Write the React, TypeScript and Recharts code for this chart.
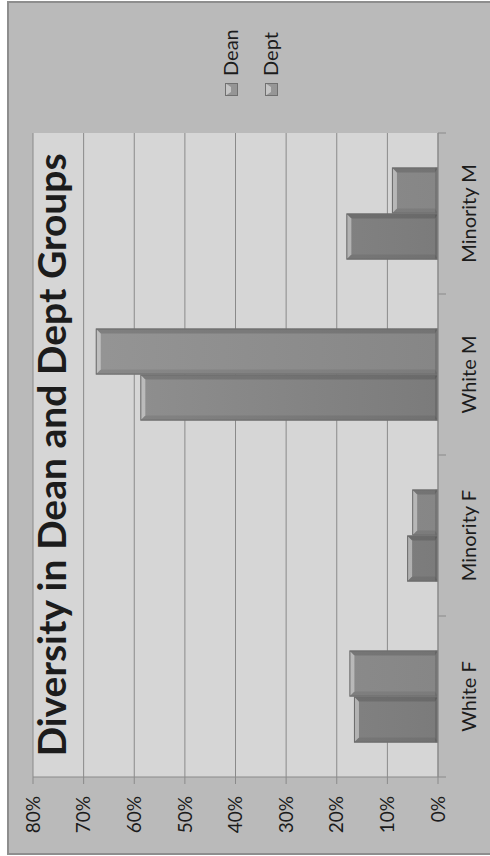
import { BarChart, Bar, XAxis, YAxis, CartesianGrid, Legend } from "recharts";

// category groups and shares (percent) for each series
const categories = ["White F", "Minority F", "White M", "Minority M"];
const deanShare = [16.6, 6.1, 58.8, 18.1];
const deptShare = [17.5, 5.1, 67.6, 9.1];
const percentTicks = [0, 10, 20, 30, 40, 50, 60, 70, 80];

const data = categories.map((name, i) => ({
  name,
  Dean: deanShare[i],
  Dept: deptShare[i],
}));

const W = 856;
const H = 490;
const FONT = "Lato, 'Open Sans', sans-serif";
const INK = "#1c1c1c";
const AXIS = "#8a8a8a";
const BAND = 644 / categories.length;

// bar with a bevelled top and darker sides
function BevelBar(props: any) {
  const { x, y, width, height, fill } = props;
  if (!height || height <= 0) return null;
  const b = Math.min(5, height / 2, width / 2);
  const x2 = x + width;
  const y2 = y + height;
  return (
    <g>
      <rect x={x} y={y} width={width} height={height} fill={fill} />
      <polygon
        points={`${x},${y} ${x2},${y} ${x2 - b},${y + b} ${x + b},${y + b}`}
        fill="#ffffff"
        fillOpacity={0.4}
      />
      <polygon
        points={`${x},${y} ${x + b},${y + b} ${x + b},${y2 - 3} ${x},${y2}`}
        fill="#000000"
        fillOpacity={0.08}
      />
      <polygon
        points={`${x2},${y} ${x2 - b},${y + b} ${x2 - b},${y2 - 3} ${x2},${y2}`}
        fill="#000000"
        fillOpacity={0.14}
      />
      <rect x={x} y={y2 - 3} width={width} height={3} fill="#000000" fillOpacity={0.12} />
      <rect
        x={x + 0.5}
        y={y + 0.5}
        width={width - 1}
        height={height - 1}
        fill="none"
        stroke="#6c6c6c"
        strokeWidth={1}
      />
    </g>
  );
}

// category label centred in its band, ticks on the band edges
function CategoryTick(props: any) {
  const { x, y, payload, index } = props;
  const left = x - BAND / 2;
  return (
    <g>
      <line x1={left} y1={y} x2={left} y2={y + 8} stroke={AXIS} />
      {index === categories.length - 1 && (
        <line x1={x + BAND / 2} y1={y} x2={x + BAND / 2} y2={y + 8} stroke={AXIS} />
      )}
      <text
        x={x}
        y={y + 38}
        textAnchor="middle"
        fontFamily={FONT}
        fontSize={20}
        fill={INK}
      >
        {payload.value}
      </text>
    </g>
  );
}

function LegendBox(props: any) {
  const items = props.payload || [];
  return (
    <svg width={96} height={80} style={{ overflow: "visible" }}>
      {items.map((item: any, i: number) => {
        const cy = 12 + i * 40;
        return (
          <g key={item.value}>
            <rect x={2} y={cy - 12} width={13} height={13} fill={item.color} />
            <polygon
              points={`2,${cy - 12} 15,${cy - 12} 11,${cy - 6} 6,${cy - 6}`}
              fill="#ffffff"
              fillOpacity={0.45}
            />
            <rect x={2.5} y={cy - 11.5} width={12} height={12} fill="none" stroke="#707070" />
            <text x={22} y={cy + 1} fontFamily={FONT} fontSize={20} fill={INK}>
              {item.value}
            </text>
          </g>
        );
      })}
    </svg>
  );
}

export default function App() {
  return (
    <div
      style={{
        position: "fixed",
        left: 0,
        top: 0,
        width: 490,
        height: 856,
        overflow: "hidden",
        background: "#ffffff",
      }}
    >
      <div
        style={{
          position: "absolute",
          left: 0,
          top: 0,
          width: W,
          height: H,
          transformOrigin: "0 0",
          transform: `translateY(${W}px) rotate(-90deg)`,
        }}
      >
        <div
          style={{
            position: "absolute",
            left: 1,
            top: 7,
            width: 854,
            height: 510,
            boxSizing: "border-box",
            border: "2px solid #8e8e8e",
            background: "#bababa",
          }}
        />
        <div style={{ position: "absolute", left: 0, top: 0 }}>
          <BarChart
            width={W}
            height={H}
            data={data}
            margin={{ top: 33, right: 133, bottom: 22, left: 0 }}
            barCategoryGap="21.4%"
            barGap={0}
          >
            <defs>
              <linearGradient id="deanFill" gradientUnits="userSpaceOnUse" x1="0" y1="33" x2="0" y2="438">
                <stop offset="0%" stopColor="#959595" />
                <stop offset="100%" stopColor="#7b7b7b" />
              </linearGradient>
              <linearGradient id="deptFill" gradientUnits="userSpaceOnUse" x1="0" y1="33" x2="0" y2="438">
                <stop offset="0%" stopColor="#979797" />
                <stop offset="100%" stopColor="#868686" />
              </linearGradient>
            </defs>
            <CartesianGrid vertical={false} fill="#d6d6d6" stroke={AXIS} />
            <XAxis
              dataKey="name"
              axisLine={{ stroke: AXIS }}
              tickLine={false}
              tickSize={0}
              tickMargin={0}
              height={30}
              interval={0}
              tick={<CategoryTick />}
            />
            <YAxis
              width={79}
              domain={[0, 80]}
              ticks={percentTicks}
              interval={0}
              axisLine={{ stroke: AXIS }}
              tickLine={{ stroke: AXIS }}
              tickSize={7}
              tickMargin={12}
              tickFormatter={(v: number) => `${v}%`}
              tick={{ fontFamily: FONT, fontSize: 19, fill: INK }}
            />
            <Legend
              layout="vertical"
              verticalAlign="middle"
              align="center"
              wrapperStyle={{ left: 758, top: 225, width: 96, height: 80 }}
              content={<LegendBox />}
            />
            <Bar dataKey="Dean" fill="url(#deanFill)" shape={<BevelBar />} isAnimationActive={false} />
            <Bar dataKey="Dept" fill="url(#deptFill)" shape={<BevelBar />} isAnimationActive={false} />
          </BarChart>
        </div>
        <div
          style={{
            position: "absolute",
            left: 79,
            width: 644,
            top: 28,
            textAlign: "center",
            fontFamily: FONT,
            fontWeight: 700,
            fontSize: 39,
            lineHeight: "46px",
            color: INK,
            whiteSpace: "nowrap",
          }}
        >
          Diversity in Dean and Dept Groups
        </div>
      </div>
    </div>
  );
}
